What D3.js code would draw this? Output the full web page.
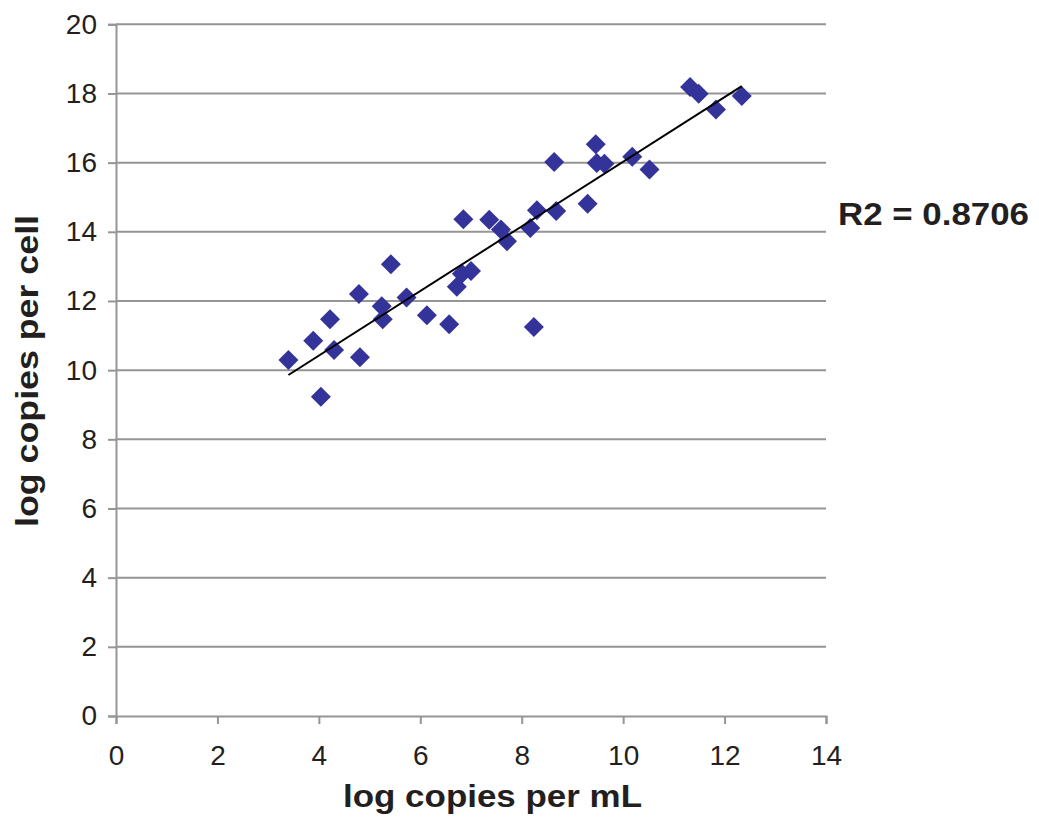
<!DOCTYPE html>
<html><head><meta charset="utf-8">
<script src="https://cdn.jsdelivr.net/npm/d3@7"></script>
<style>body{margin:0;background:#fff}svg{display:block}</style>
</head><body>
<script>
const xValues = [3.40,4.04,3.89,4.22,4.30,4.81,4.79,5.24,5.26,5.42,5.73,6.13,6.57,6.72,6.82,7.00,7.71,8.24,6.85,7.36,7.59,8.17,8.30,8.68,9.30,8.64,9.46,9.48,9.63,10.18,10.52,11.32,11.49,11.83,12.34];
const yValues = [10.29,9.23,10.85,11.47,10.58,10.37,12.20,11.85,11.47,13.06,12.10,11.59,11.33,12.41,12.79,12.87,13.73,11.25,14.36,14.35,14.07,14.11,14.62,14.60,14.81,16.02,16.53,15.99,15.97,16.17,15.80,18.19,17.99,17.54,17.93];
const trendX = [3.40, 12.34];
const trendY = [9.86, 18.21];
const xTicks = [0,2,4,6,8,10,12,14];
const yTicks = [0,2,4,6,8,10,12,14,16,18,20];
const xTitle = "log copies per mL";
const yTitle = "log copies per cell";
const r2Label = "R2 = 0.8706";

const W = 1039, H = 823;
const svg = d3.select("body").append("svg").attr("width", W).attr("height", H);
const x = d3.scaleLinear().domain([0,14]).range([116,826]);
const y = d3.scaleLinear().domain([0,20]).range([716,24.3]);
const gridC = "#959595", txtC = "#231f20";
const font = "Liberation Sans, Arial, sans-serif";

// gridlines
svg.append("g").selectAll("line").data(yTicks.filter(d=>d>0)).join("line")
  .attr("x1", x(0)).attr("x2", x(14)).attr("y1", d=>y(d)).attr("y2", d=>y(d))
  .attr("stroke", gridC).attr("stroke-width", 2);

// axes
const yAxis = svg.append("g").attr("transform", `translate(${x(0)},0)`)
  .call(d3.axisLeft(y).tickValues(yTicks).tickSize(8).tickPadding(11));
const xAxis = svg.append("g").attr("transform", `translate(0,${y(0)})`)
  .call(d3.axisBottom(x).tickValues(xTicks).tickSize(8).tickPadding(21));
[yAxis, xAxis].forEach(g => {
  g.select(".domain").attr("stroke", gridC).attr("stroke-width", 2);
  g.selectAll(".tick line").attr("stroke", gridC).attr("stroke-width", 2);
  g.selectAll(".tick text").attr("fill", txtC).style("font-family", font).style("font-size", "28px");
});

// points
svg.append("g").selectAll("path").data(xValues.map((v,i)=>[v,yValues[i]])).join("path")
  .attr("d", d3.symbol().type(d3.symbolSquare).size(200))
  .attr("transform", d => `translate(${x(d[0])},${y(d[1])}) rotate(45)`)
  .attr("fill", "#333399");

// trend line
svg.append("line")
  .attr("x1", x(trendX[0])).attr("y1", y(trendY[0]))
  .attr("x2", x(trendX[1])).attr("y2", y(trendY[1]))
  .attr("stroke", "#000").attr("stroke-width", 2);

// titles
function bold(sel, size){ return sel.attr("fill", txtC).style("font-family", font).style("font-weight", "bold").style("font-size", size+"px"); }
bold(svg.append("text").attr("x", 343).attr("y", 807)
  .attr("textLength", 299).attr("lengthAdjust", "spacingAndGlyphs").text(xTitle), 32);
bold(svg.append("text").attr("transform", "translate(38,527) rotate(-90)")
  .attr("textLength", 312).attr("lengthAdjust", "spacingAndGlyphs").text(yTitle), 32);
bold(svg.append("text").attr("x", 838).attr("y", 225)
  .attr("textLength", 191).attr("lengthAdjust", "spacingAndGlyphs").text(r2Label), 32);
</script>
</body></html>
